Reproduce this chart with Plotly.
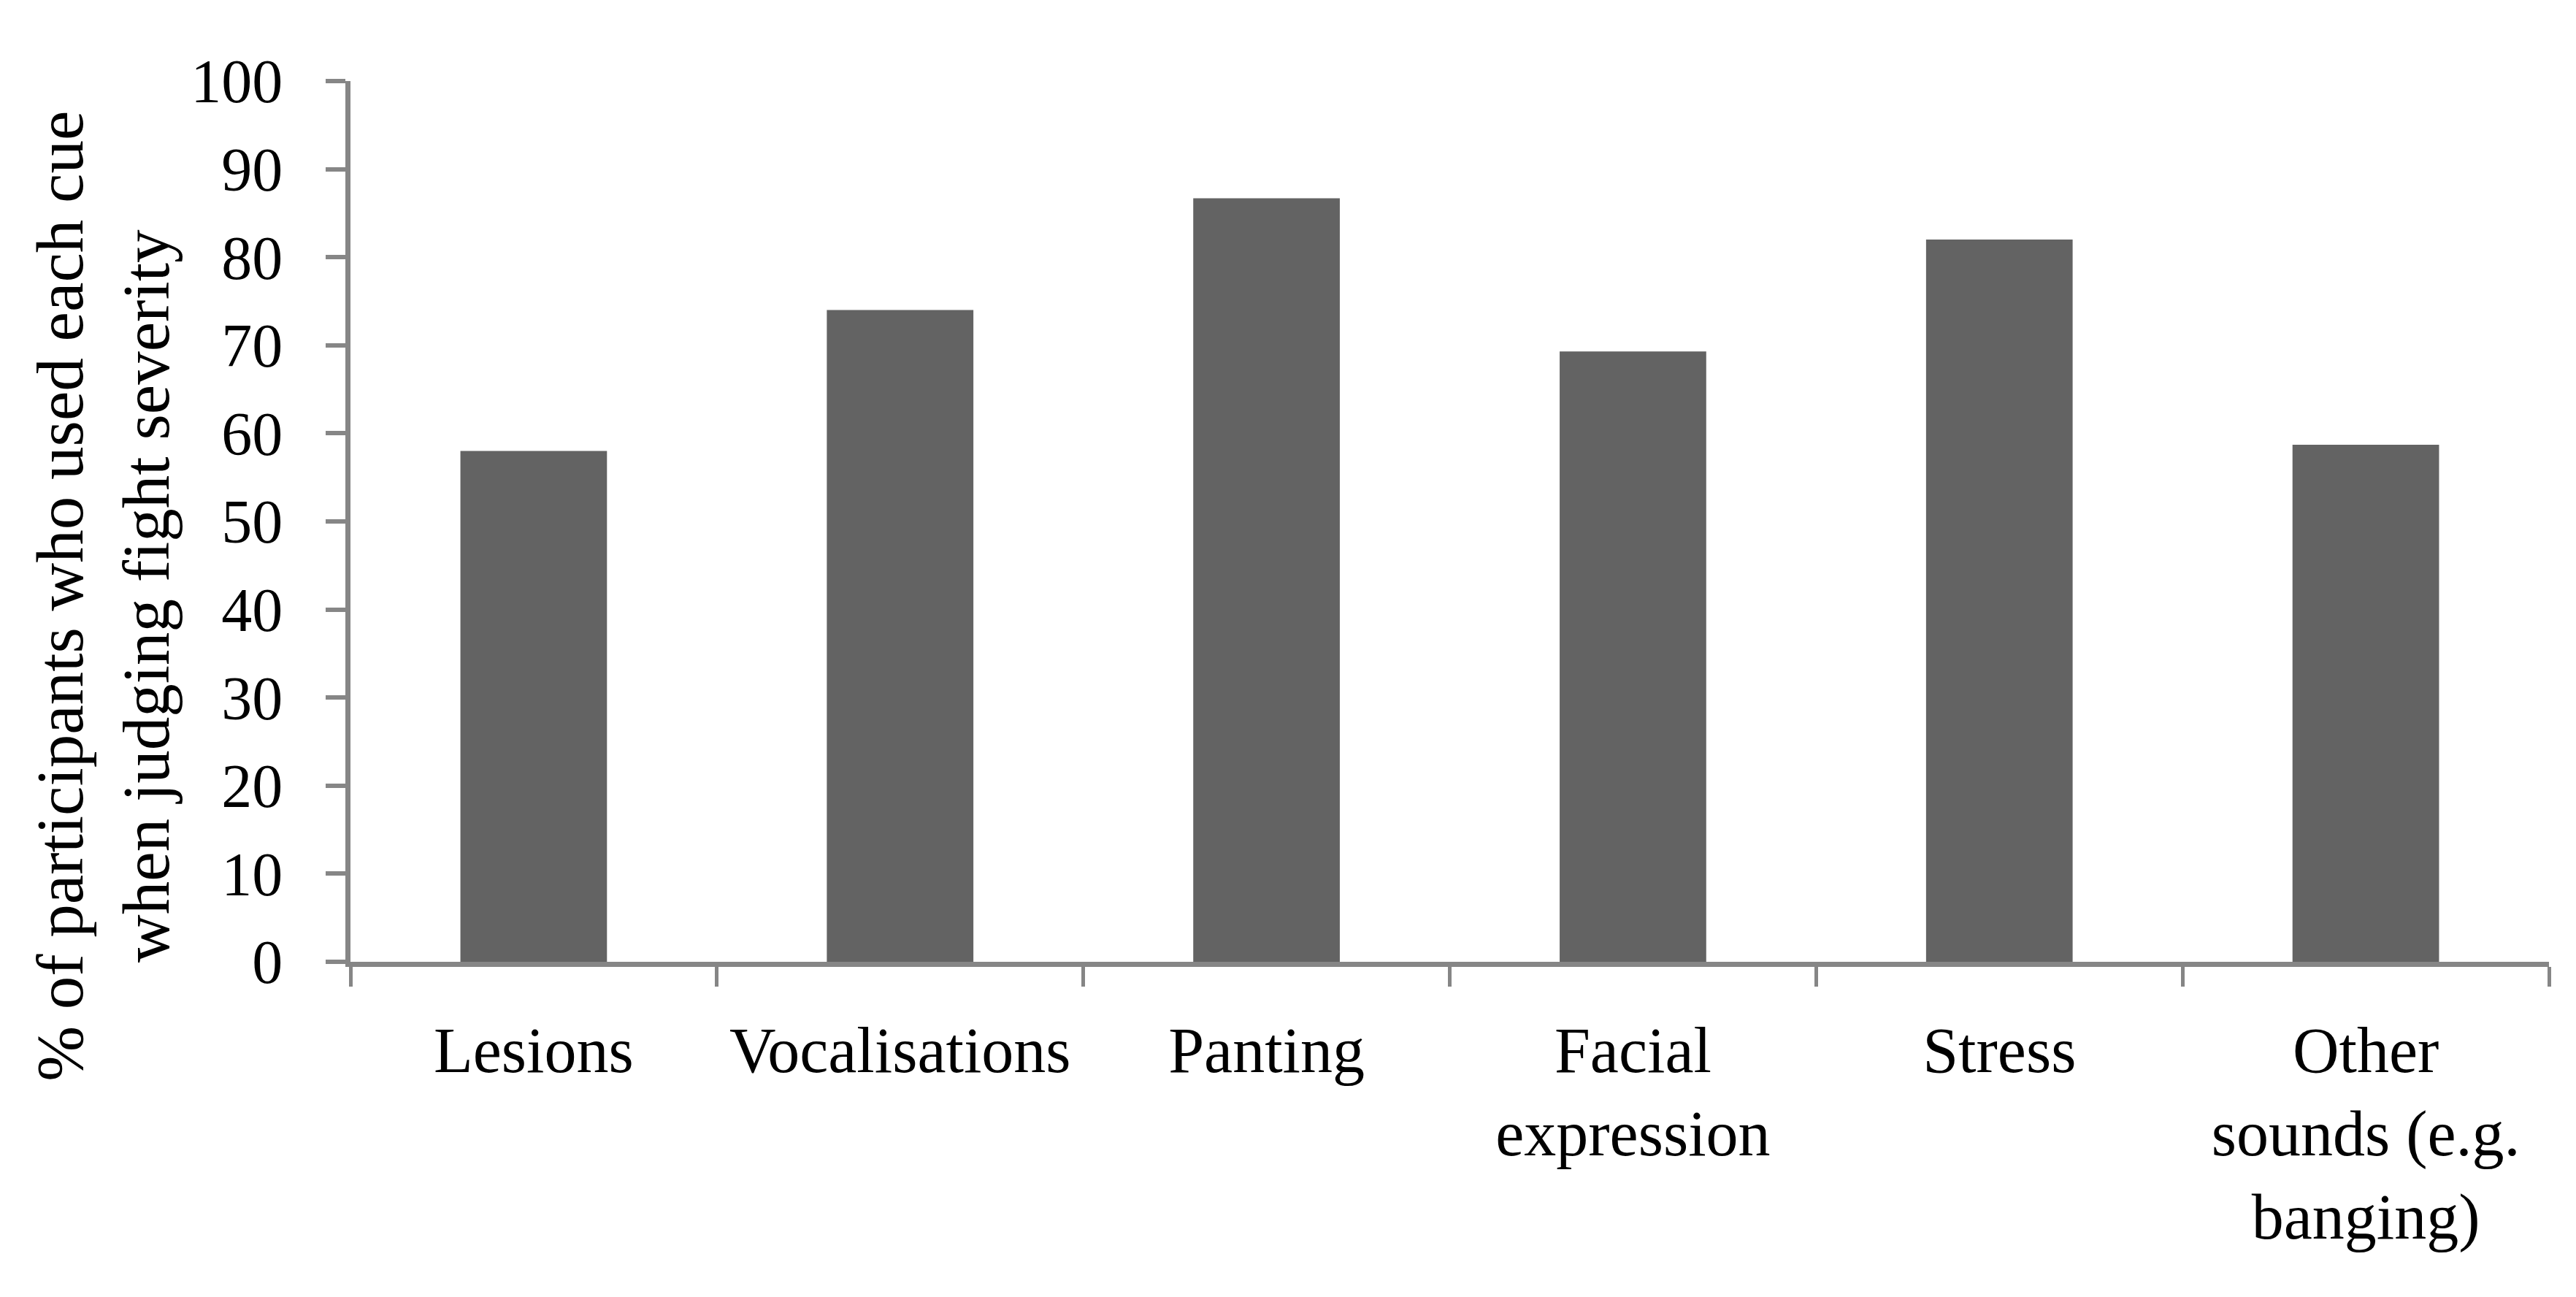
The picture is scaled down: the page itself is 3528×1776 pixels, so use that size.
import plotly.graph_objects as go

CATEGORIES = ["Lesions", "Vocalisations", "Panting", "Facial<br>expression",
              "Stress", "Other<br>sounds (e.g.<br>banging)"]
PERCENT_USED = [58.0, 74.0, 86.7, 69.3, 82.0, 58.7]
Y_TICKS = list(range(0, 101, 10))

AXIS_GREY = "#868686"
BAR_GREY = "#636363"
FONT = dict(family="Liberation Serif", size=84, color="#000000")

fig = go.Figure()
fig.add_trace(go.Bar(
    x=CATEGORIES, y=PERCENT_USED,
    marker=dict(color=BAR_GREY, line=dict(width=0)),
    width=0.4,
))

# axis title as an annotation so it can sit lower than the plot centre
fig.add_annotation(
    text="% of participants who used each cue<br>when judging fight severity",
    xref="paper", yref="paper", x=-0.1125, y=0.415,
    xanchor="center", yanchor="middle", textangle=-90,
    showarrow=False, font=dict(FONT, size=91),
)

fig.update_layout(
    width=3528, height=1776,
    plot_bgcolor="#ffffff",
    paper_bgcolor="#ffffff",
    font=FONT,
    margin=dict(l=472, r=45, t=103, b=467),
    showlegend=False,
    xaxis=dict(
        type="category", tickson="boundaries",
        showline=True, linecolor=AXIS_GREY, linewidth=7,
        ticks="outside", ticklen=27, tickwidth=5, tickcolor=AXIS_GREY,
        showgrid=False, ticklabelstandoff=38,
        tickfont=dict(FONT, size=88),
    ),
    yaxis=dict(
        range=[0, 100], tickvals=Y_TICKS,
        showline=True, linecolor=AXIS_GREY, linewidth=7,
        ticks="outside", ticklen=27, tickwidth=6, tickcolor=AXIS_GREY,
        showgrid=False, zeroline=False, ticklabelstandoff=42,
    ),
)

fig.write_html("out.html")
